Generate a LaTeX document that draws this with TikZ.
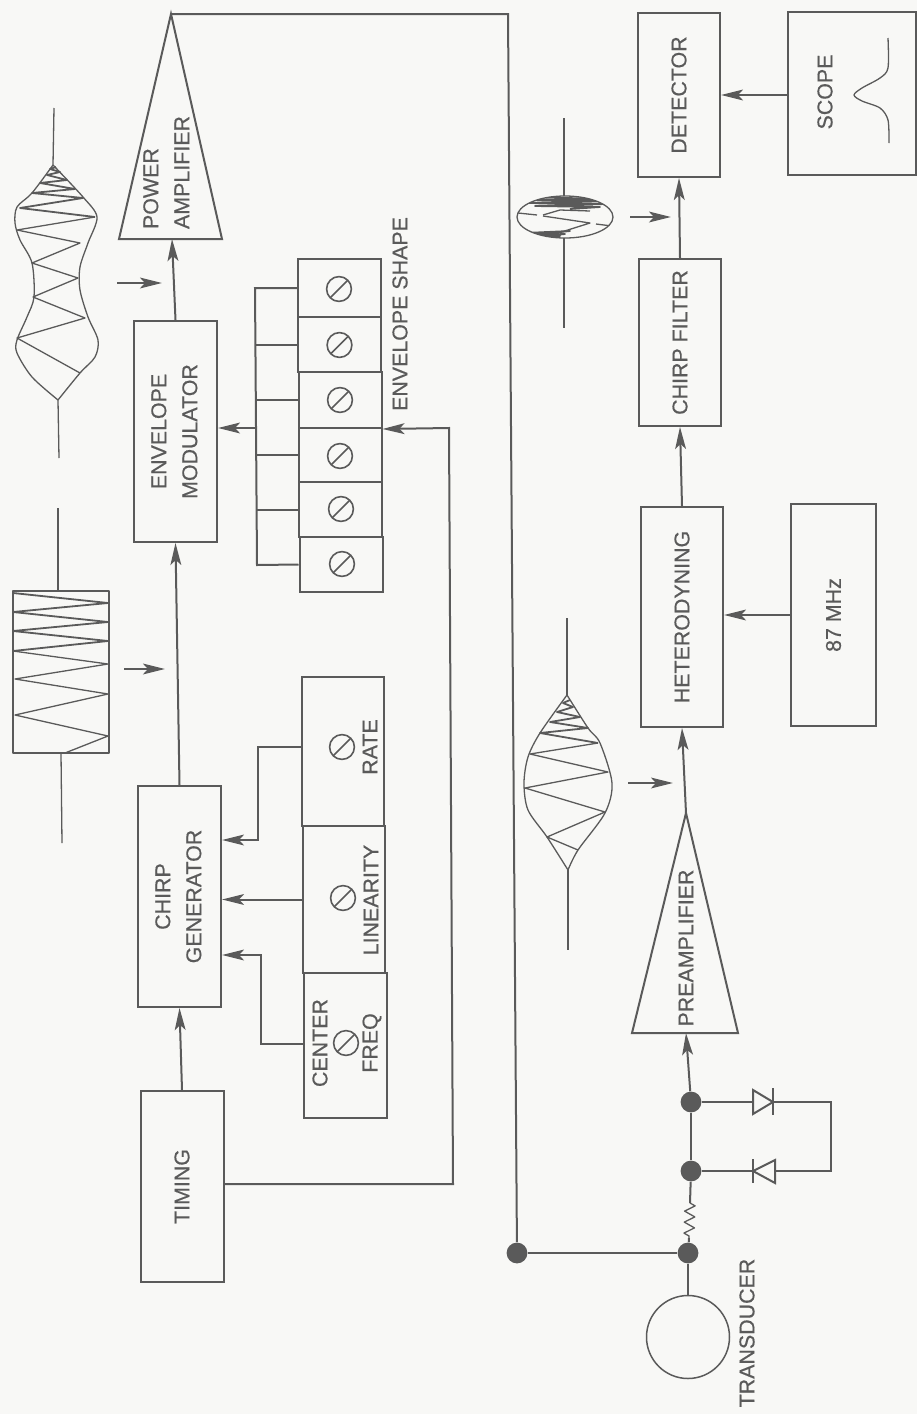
\documentclass[tikz,border=0pt]{standalone}
\usepackage{fontspec}
\usepackage{graphicx}
\setmainfont[FakeBold=0.5,AutoFakeBold=false]{Liberation Sans}
\usetikzlibrary{arrows.meta,decorations.pathmorphing}

\definecolor{ink}{HTML}{5A5A5A}
\definecolor{paper}{HTML}{F8F8F6}

\newcommand{\turned}[1]{\rotatebox{90}{#1}}
\newcommand{\turnedpair}[2][c]{\rotatebox{90}{\begin{tabular}{@{}#1@{}}#2\end{tabular}}}

\begin{document}
\begin{tikzpicture}[
    x=0.5pt, y=-0.5pt,
    every node/.style={font=\fontsize{10.7}{15.5}\selectfont, text=ink},
    unit/.style={
        draw=ink,
        line width=1pt,
        inner sep=0pt
    },
    wire/.style={draw=ink, line width=1pt},
    thin wire/.style={draw=ink, line width=0.65pt, line join=round},
    dense wire/.style={draw=ink, line width=0.9pt, line join=round},
    arr/.style={wire, -{Stealth[length=11pt,width=5.4pt,inset=2.5pt]}},
    hint/.style={wire, -{Stealth[length=11pt,width=5.4pt,inset=2.5pt]}},
    joint/.style={circle, fill=ink, minimum size=10.4pt, inner sep=0pt},
    knob/.style={
        circle,
        draw=ink,
        line width=0.8pt,
        minimum size=12.4pt,
        inner sep=0pt,
        path picture={
            \draw[ink, line width=0.8pt] (path picture bounding box.south west)
                -- (path picture bounding box.north east);
        }
    }
]

    \fill[paper] (0,0) rectangle (917,1414);
    \useasboundingbox (0,0) rectangle (917,1414);

    % Upper chain
    \node[unit, minimum width=41.5pt, minimum height=95.5pt] (timing) at (182,1186.5) {\turned{TIMING}};
    \node[unit, minimum width=41.5pt, minimum height=110.5pt] (chirpgen) at (179.5,896.5) {\turnedpair{CHIRP\\GENERATOR}};
    \node[unit, minimum width=41.5pt, minimum height=110.5pt] (envmod) at (175.5,431.5) {\turnedpair{ENVELOPE\\MODULATOR}};

    % Power amplifier
    \coordinate (ampTip) at (171,14);
    \coordinate (ampBase) at (172,239);
    \draw[unit] (ampTip) -- (119,239) -- (222,239) -- cycle;
    \node (amptext) at (167.5,172.5) {\turnedpair[l]{POWER\\AMPLIFIER}};

    % Chirp controls
    \node[unit, minimum width=41pt, minimum height=74.5pt] (rate) at (343,751.5) {};
    \node[unit, minimum width=41pt, minimum height=73.5pt] (linearity) at (344,899.5) {};
    \node[unit, minimum width=41.5pt, minimum height=72.5pt] (centerfreq) at (345.5,1045.5) {};
    \node[knob] (knobRate) at (342,747) {};
    \node[knob] (knobLin) at (343,898) {};
    \node[knob] (knobFreq) at (346,1043) {};
    \node (ratetext) at (370,747) {\turned{RATE}};
    \node (lintext) at (371,900) {\turned{LINEARITY}};
    \node (centertext) at (320,1043) {\turned{CENTER}};
    \node (freqtext) at (372,1043) {\turned{FREQ}};

    % Envelope controls
    \node[unit, minimum width=41.5pt, minimum height=29pt] (cellA) at (339.5,288) {};
    \node[unit, minimum width=41.5pt, minimum height=27.5pt] (cellB) at (339.5,344.5) {};
    \node[unit, minimum width=41.5pt, minimum height=28pt] (cellC) at (340,400) {};
    \node[unit, minimum width=41.5pt, minimum height=27pt] (cellD) at (340,455) {};
    \node[unit, minimum width=41.5pt, minimum height=27.5pt] (cellE) at (340.5,509.5) {};
    \node[unit, minimum width=41.5pt, minimum height=27.5pt] (cellF) at (341,564.5) {};
    \node[knob] (knobA) at (339,289) {};
    \node[knob] (knobB) at (339.5,345) {};
    \node[knob] (knobC) at (340,400) {};
    \node[knob] (knobD) at (340,456) {};
    \node[knob] (knobE) at (341,509) {};
    \node[knob] (knobF) at (342,564) {};
    \node (shapetext) at (400,314) {\turned{ENVELOPE SHAPE}};

    % Lower chain
    \node[unit, minimum width=41pt, minimum height=82pt] (detector) at (679,95) {\turned{DETECTOR}};
    \node[unit, minimum width=64pt, minimum height=81.5pt] (scope) at (852,93.5) {};
    \node (scopetext) at (825,92) {\turned{SCOPE}};
    \node[unit, minimum width=41pt, minimum height=83.5pt] (chirpfilter) at (680,342.5) {\turned{CHIRP FILTER}};
    \node[unit, minimum width=41pt, minimum height=110pt] (hetero) at (682,617) {\turned{HETERODYNING}};
    \node[unit, minimum width=42.5pt, minimum height=111pt] (osc) at (833.5,615) {\turned{87 MHz}};

    % Preamplifier
    \coordinate (preTip) at (686,813);
    \coordinate (preBase) at (686,1033);
    \draw[unit] (preTip) -- (632,1033) -- (738,1033) -- cycle;
    \node (pretext) at (686,948) {\turned{PREAMPLIFIER}};

    % Connectors of the upper chain
    \draw[arr] (timing.north) -- (chirpgen.south);
    \draw[arr] (chirpgen.north) -- (envmod.south);
    \draw[arr] (envmod.north) -- (ampBase);
    \draw[arr] (linearity.west) -- (chirpgen.east |- linearity.west);
    \coordinate (rateTurn) at (258,747);
    \coordinate (rateIn) at (258,840);
    \draw[arr] (rate.west |- rateTurn) -- (rateTurn) -- (rateIn) -- (chirpgen.east |- rateIn);
    \coordinate (freqTurn) at (261,1044);
    \coordinate (freqIn) at (261,955);
    \draw[arr] (centerfreq.west |- freqTurn) -- (freqTurn) -- (freqIn) -- (chirpgen.east |- freqIn);

    % Bus of the envelope controls
    \coordinate (busTop) at (255,288);
    \coordinate (busMid) at (256,428);
    \coordinate (busEnd) at (257,565);
    \draw[wire] (cellA.west) -- (busTop) -- (busEnd) -- (cellF.west);
    \draw[wire] (cellB.west) -- (cellB.west -| busMid);
    \draw[wire] (cellC.west) -- (cellC.west -| busMid);
    \draw[wire] (cellD.west) -- (cellD.west -| busMid);
    \draw[wire] (cellE.west) -- (cellE.west -| busMid);
    \draw[arr] (busMid) -- (envmod.east |- busMid);

    \coordinate (timingTurn) at (453,1184);
    \coordinate (shapeTurn) at (449,428);
    \draw[arr] (timing.east |- timingTurn) -- (timingTurn) -- (shapeTurn) -- (cellC.south east);

    % Connectors of the lower chain
    \draw[arr] (preTip) -- (hetero.south);
    \draw[arr] (hetero.north) -- (chirpfilter.south);
    \draw[arr] (chirpfilter.north) -- (detector.south);
    \draw[arr] (osc.west) -- (hetero.east |- osc.west);
    \draw[arr] (scope.west |- detector.east) -- (detector.east);

    % Input network
    \node[joint] (jointD) at (691,1102) {};
    \node[joint] (jointC) at (691,1171) {};
    \node[joint] (jointB) at (688,1253) {};
    \node[joint] (jointA) at (517,1253) {};
    \node[draw=ink, circle, line width=0.75pt, minimum size=41.5pt, inner sep=0pt] (transducer) at (688,1337) {};
    \node (transducertext) at (747,1333) {\turned{TRANSDUCER}};

    \coordinate (feedTurn) at (508,14);
    \draw[wire] (ampTip) -- (feedTurn) -- (jointA);
    \draw[wire] (jointA) -- (jointB);
    \draw[wire] (jointB) -- (transducer);
    \draw[arr] (jointD) -- (preBase);
    \draw[wire] (jointD) -- (jointC);

    \coordinate (resTop) at (690,1203);
    \coordinate (resEnd) at (689,1238);
    \draw[wire] (jointC) -- (resTop);
    \draw[thin wire, decorate, decoration={zigzag, segment length=5.5pt, amplitude=2.6pt}] (resTop) -- (resEnd);
    \draw[wire] (resEnd) -- (jointB);

    % Diodes
    \coordinate (diodeA) at (753,1102);
    \coordinate (diodeAend) at (773,1102);
    \coordinate (diodeB) at (753,1171);
    \coordinate (diodeBend) at (775,1171);
    \coordinate (loopA) at (831,1102);
    \coordinate (loopB) at (831,1171);
    \draw[wire] (jointD) -- (diodeA);
    \draw[wire] (753,1090) -- (diodeAend) -- (753,1114) -- cycle;
    \draw[wire] (773,1088) -- (773,1115);
    \draw[wire] (diodeAend) -- (loopA) -- (loopB) -- (diodeBend);
    \draw[wire] (jointC) -- (diodeB);
    \draw[wire] (775,1160) -- (diodeB) -- (775,1183) -- cycle;
    \draw[wire] (753,1159) -- (753,1183);

    % Small arrows beside the waveforms
    \coordinate (hintA) at (117,283);
    \coordinate (hintAend) at (162,283);
    \coordinate (hintB) at (124,669);
    \coordinate (hintBend) at (165,669);
    \coordinate (hintC) at (628,783);
    \coordinate (hintCend) at (673,783);
    \coordinate (hintD) at (630,217);
    \coordinate (hintDend) at (671,217);
    \draw[hint] (hintA) -- (hintAend);
    \draw[hint] (hintB) -- (hintBend);
    \draw[hint] (hintC) -- (hintCend);
    \draw[hint] (hintD) -- (hintDend);

    % Shaped chirp
    \draw[thin wire] (54,108) -- (53,165);
    \draw[thin wire] (58,400) -- (59,458);
    \draw[thin wire] plot[smooth] coordinates {(53,165) (32,193) (17,207) (15,223) (20,240) (32,263) (34,297) (27,317) (17,340) (17,353) (32,377) (58,400)};
    \draw[thin wire] plot[smooth] coordinates {(53,165) (83,197) (97,217) (88,243) (80,267) (80,290) (88,317) (98,340) (95,357) (80,373) (58,400)};
    \draw[thin wire] (80,373) -- (17,338) -- (85,318) -- (33,297) -- (78,278) -- (32,263) -- (80,243) -- (17,230) -- (95,217);
    \draw[dense wire] (95,217) -- (20,208) -- (83,198) -- (32,193) -- (75,189) -- (40,183) -- (67,180) -- (47,175) -- (60,172) -- (50,169) -- (56,167);

    % Plain chirp
    \draw[thin wire] (58,508) -- (58,591);
    \draw[thin wire] (61,753) -- (62,843);
    \draw[thin wire] (13,591) rectangle (109,753);
    \draw[thin wire] (65,753) -- (108,736) -- (15,715) -- (108,694) -- (15,679) -- (108,664) -- (13,651);
    \draw[dense wire] (13,651) -- (108,641) -- (13,631) -- (108,622) -- (13,612) -- (108,603) -- (13,593);

    % Received echo
    \draw[thin wire] (567,618) -- (567,695);
    \draw[thin wire] (568,870) -- (568,950);
    \draw[thin wire] plot[smooth] coordinates {(567,695) (540,733) (528,757) (524,783) (528,810) (547,837) (568,870)};
    \draw[thin wire] plot[smooth] coordinates {(567,695) (588,728) (600,743) (612,783) (605,813) (578,850) (568,870)};
    \draw[thin wire] (578,850) -- (547,837) -- (605,812) -- (525,788) -- (608,772) -- (530,754) -- (598,743);
    \draw[dense wire] (598,743) -- (540,733) -- (588,728) -- (550,722) -- (580,717) -- (557,712) -- (573,707) -- (563,703) -- (570,700);

    % Compressed pulse
    \draw[thin wire] (564,118) -- (564,196);
    \draw[thin wire] (564,238) -- (564,328);
    \draw[thin wire] (565,217) ellipse [x radius=48, y radius=21];
    \begin{scope}
        \clip (565,217) ellipse [x radius=48, y radius=21];
        \draw[dense wire] (535,197) -- (600,199) -- (530,200) -- (605,201) -- (528,203) -- (605,204) -- (535,206) -- (600,207) -- (570,209);
        \draw[thin wire] (518,213) -- (537,215);
        \draw[thin wire] (543,215) -- (560,210) -- (590,211);
        \draw[thin wire] (543,216) -- (590,223) -- (552,235);
        \draw[thin wire] (596,224) -- (612,226);
        \draw[dense wire] (525,233) -- (570,231) -- (530,235) -- (565,234) -- (535,237) -- (560,236) -- (540,238);
    \end{scope}

    % Scope trace
    \draw[thin wire] plot[smooth] coordinates {(888,38) (888,68) (880,78) (862,88) (854,95) (862,101) (880,108) (888,120) (889,143)};

\end{tikzpicture}
\end{document}
